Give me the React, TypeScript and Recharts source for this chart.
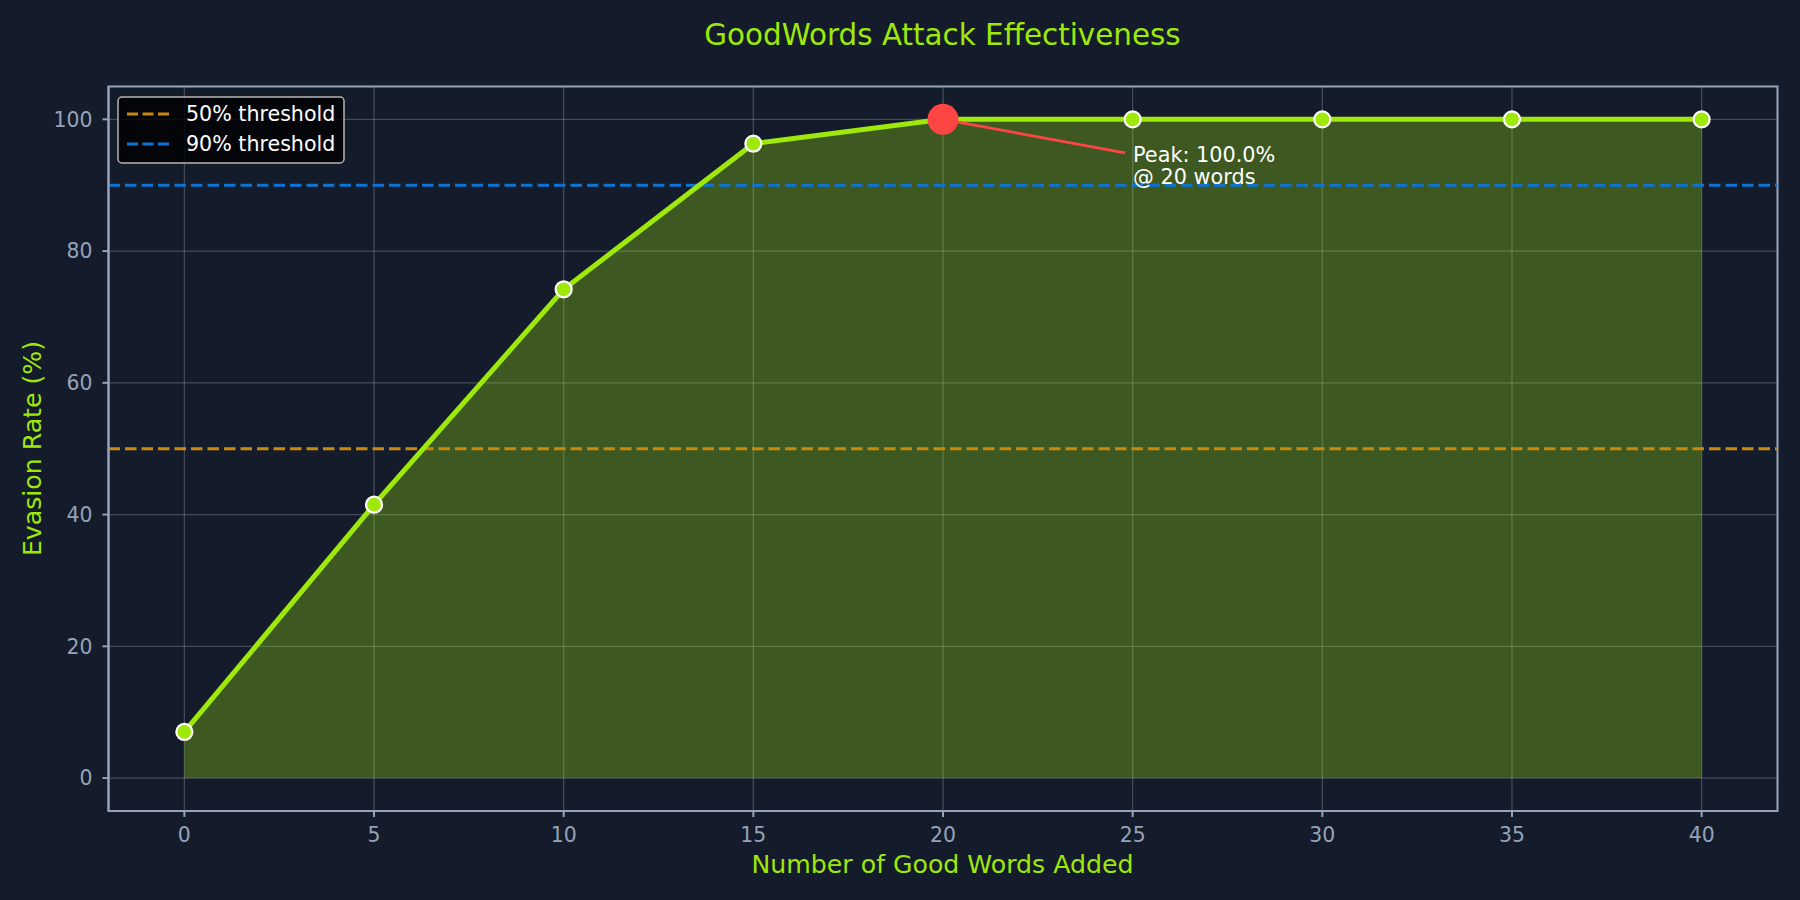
import {
  ComposedChart,
  Area,
  Line,
  XAxis,
  YAxis,
  CartesianGrid,
  ReferenceLine,
  ReferenceDot,
  ReferenceArea,
} from 'recharts';

const wordCounts = [0, 5, 10, 15, 20, 25, 30, 35, 40];
const evasionRates = [7.0, 41.5, 74.2, 96.3, 100, 100, 100, 100, 100];
const xTicks = [0, 5, 10, 15, 20, 25, 30, 35, 40];
const yTicks = [0, 20, 40, 60, 80, 100];
const thresholdLabels = ['50% threshold', '90% threshold'];
const thresholdValues = [50, 90];
const thresholdColors = ['#c98a0b', '#0b74d4'];
// where the peak annotation text sits (data coords)
const annotationAt = { x: 24.8, y: 94.9 };

const data = wordCounts.map((words, i) => ({ words, rate: evasionRates[i] }));

const peakRate = Math.max(...evasionRates);
const peakWords = wordCounts[evasionRates.indexOf(peakRate)];

const BG = '#141c2c';
const LIME = '#9ee80a';
const SLATE = '#94a3b8';
const RED = '#ff4444';
const FONT = 'DejaVu Sans';

export default function App() {
  return (
    <div style={{ position: 'absolute', top: 0, left: 0, width: 1800, height: 900, background: BG }}>
      <ComposedChart
        width={1800}
        height={900}
        data={data}
        margin={{ top: 86.4, right: 22.5, left: 0, bottom: 0 }}
      >
        <CartesianGrid stroke="#ffffff" strokeOpacity={0.2} strokeWidth={1.3} />
        <XAxis
          dataKey="words"
          type="number"
          domain={[-2, 42]}
          ticks={xTicks}
          height={89}
          stroke={SLATE}
          strokeWidth={2}
          tickSize={6}
          tickMargin={11}
          tick={{ fill: SLATE, fontSize: 20.4, fontFamily: FONT }}
        />
        <YAxis
          type="number"
          domain={[-5, 105]}
          ticks={yTicks}
          width={108.5}
          stroke={SLATE}
          strokeWidth={2}
          tickSize={6}
          tickMargin={10}
          tick={{ fill: SLATE, fontSize: 20.4, fontFamily: FONT }}
        />
        <ReferenceArea x1={-2} x2={42} y1={-5} y2={105} fill="none" stroke={SLATE} strokeWidth={2} />
        <Area
          type="linear"
          dataKey="rate"
          fill={LIME}
          fillOpacity={0.3}
          stroke={LIME}
          strokeOpacity={0.3}
          strokeWidth={1.5}
          isAnimationActive={false}
        />
        {thresholdValues.map((v, i) => (
          <ReferenceLine
            key={v}
            y={v}
            stroke={thresholdColors[i]}
            strokeWidth={3}
            strokeDasharray="11.5 5"
          />
        ))}
        <Line
          type="linear"
          dataKey="rate"
          stroke={LIME}
          strokeWidth={5}
          dot={{ r: 8, fill: LIME, stroke: '#ffffff', strokeWidth: 2.2 }}
          activeDot={false}
          isAnimationActive={false}
        />
        <ReferenceLine
          segment={[
            { x: peakWords, y: peakRate },
            { x: annotationAt.x, y: annotationAt.y },
          ]}
          stroke={RED}
          strokeWidth={2.7}
        />
        <ReferenceDot x={peakWords} y={peakRate} r={15.5} fill={RED} stroke="none" />
        <ReferenceDot
          x={annotationAt.x}
          y={annotationAt.y}
          r={1}
          shape={(p: any) => (
            <text x={p.cx + 8} y={p.cy + 9} fill="#ffffff" fontSize={20.8} fontFamily={FONT}>
              <tspan x={p.cx + 8}>{`Peak: ${peakRate.toFixed(1)}%`}</tspan>
              <tspan x={p.cx + 8} dy={21.7}>{`@ ${peakWords} words`}</tspan>
            </text>
          )}
        />
      </ComposedChart>
      <svg
        width={1800}
        height={900}
        style={{ position: 'absolute', top: 0, left: 0, pointerEvents: 'none' }}
      >
        <text x={942.5} y={45} textAnchor="middle" fill={LIME} fontSize={29.4} fontFamily={FONT}>
          GoodWords Attack Effectiveness
        </text>
        <text x={942.5} y={873} textAnchor="middle" fill={LIME} fontSize={25.2} fontFamily={FONT}>
          Number of Good Words Added
        </text>
        <text
          x={40.5}
          y={448.5}
          textAnchor="middle"
          fill={LIME}
          fontSize={25.2}
          fontFamily={FONT}
          transform="rotate(-90 40.5 448.5)"
        >
          Evasion Rate (%)
        </text>
        <g>
          <rect x={118} y={97} width={226} height={66} rx={4} fill="#000000" fillOpacity={0.8} stroke="#b4b4b4" strokeWidth={1.5} />
          {thresholdLabels.map((label, i) => (
            <g key={label}>
              <line
                x1={127}
                x2={169}
                y1={114 + i * 30}
                y2={114 + i * 30}
                stroke={thresholdColors[i]}
                strokeWidth={3}
                strokeDasharray="11 4.5"
              />
              <text x={186} y={120.7 + i * 30.3} fill="#ffffff" fontSize={20.6} fontFamily={FONT}>
                {label}
              </text>
            </g>
          ))}
        </g>
      </svg>
    </div>
  );
}
